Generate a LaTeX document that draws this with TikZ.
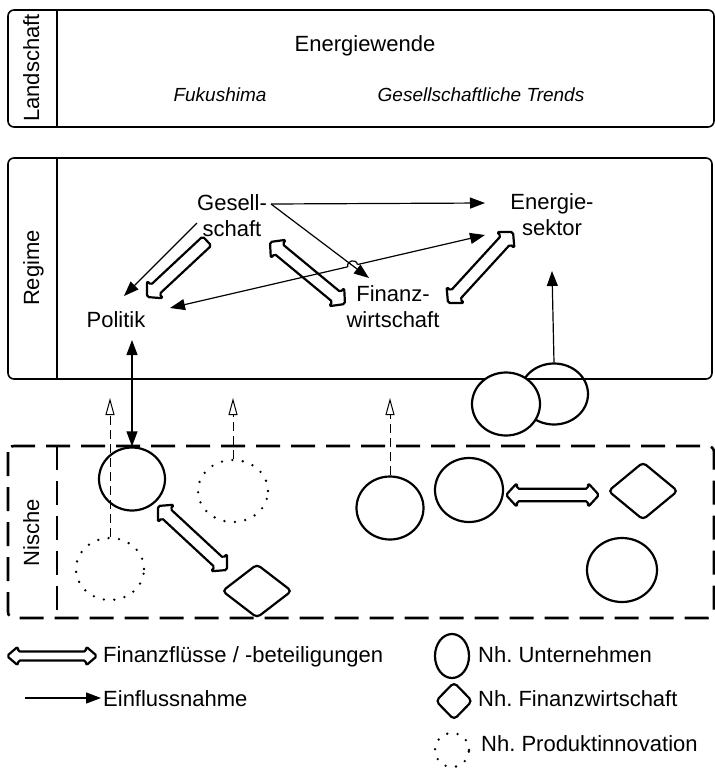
\documentclass[tikz,border=0pt]{standalone}
\usepackage{fontspec}
\setmainfont{Liberation Sans}
\frenchspacing
\usetikzlibrary{arrows.meta,shapes.geometric,calc,intersections}
\tikzset{
 txt/.style={font=\fontsize{22}{26}\selectfont, inner sep=0pt},
 itxt/.style={font=\fontsize{19}{23}\selectfont\itshape, inner sep=0pt},
 lanebox/.style={draw, line width=1.6pt, rounded corners=6pt},
 nischebox/.style={draw, line width=2.6pt, dash pattern=on 24pt off 11pt, rounded corners=6pt},
 firm/.style={ellipse, draw, line width=2.2pt, inner sep=0pt},
 inno/.style={ellipse, draw, line width=2.6pt, dash pattern=on 0pt off 10.5pt, line cap=round, inner sep=0pt},
 finbox/.style={diamond, draw, line width=2.2pt, rounded corners=4pt, inner sep=0pt},
 infl/.style={line width=1.2pt, -{Triangle[length=15pt,width=11pt]}},
 inflboth/.style={line width=1.2pt, {Triangle[length=15pt,width=11pt]}-{Triangle[length=15pt,width=11pt]}},
 innoarr/.style={line width=1pt, dash pattern=on 9pt off 5pt, -{Triangle[open,length=17pt,width=9pt,line width=1pt]}},
 finarr/.style={draw, fill=white, line width=2.2pt, rounded corners=1.8pt, line join=round},
}
\def\fhl{11pt}\def\fhw{12pt}\def\fsw{6.3pt}
\newcommand{\finboth}[2]{%
 \path[finarr] (#1)
 -- ($(#1)!\fhl!(#2)!\fhw!90:(#2)$)
 -- ($(#1)!\fhl!(#2)!\fsw!90:(#2)$)
 -- ($(#2)!\fhl!(#1)!\fsw!-90:(#1)$)
 -- ($(#2)!\fhl!(#1)!\fhw!-90:(#1)$)
 -- (#2)
 -- ($(#2)!\fhl!(#1)!\fhw!90:(#1)$)
 -- ($(#2)!\fhl!(#1)!\fsw!90:(#1)$)
 -- ($(#1)!\fhl!(#2)!\fsw!-90:(#2)$)
 -- ($(#1)!\fhl!(#2)!\fhw!-90:(#2)$)
 -- cycle;}
\newcommand{\finone}[2]{%
 \path[finarr] ($(#1)!\fsw!90:(#2)$)
 -- ($(#2)!\fhl!(#1)!\fsw!-90:(#1)$)
 -- ($(#2)!\fhl!(#1)!\fhw!-90:(#1)$)
 -- (#2)
 -- ($(#2)!\fhl!(#1)!\fhw!90:(#1)$)
 -- ($(#2)!\fhl!(#1)!\fsw!90:(#1)$)
 -- ($(#1)!\fsw!-90:(#2)$)
 -- cycle;}
\begin{document}
\begin{tikzpicture}[x=1pt,y=-1pt]
\useasboundingbox (0,0) rectangle (715,769);
% ---- lanes
\draw[lanebox] (8,10) rectangle (714,127);
\draw[line width=1.6pt] (57,10) -- (57,127);
\node[txt, rotate=90, anchor=base] (lland) at (39,68) {Landschaft};
\node[txt, anchor=base] (ew) at (365,51) {Energiewende};
\node[itxt, anchor=base] (fuku) at (220,101) {Fukushima};
\node[itxt, anchor=base] (trends) at (481,101) {Gesellschaftliche Trends};

\draw[lanebox] (8,158) rectangle (712,379);
\draw[line width=1.6pt] (57,158) -- (57,379);
\node[txt, rotate=90, anchor=base] (lreg) at (39,268) {Regime};

\draw[nischebox] (8,446) rectangle (714,618);
\draw[line width=2.6pt, dash pattern=on 24pt off 11pt] (57,446) -- (57,618);
\node[txt, rotate=90, anchor=base] (lnis) at (39,533) {Nische};

% ---- regime actors
\node[txt, align=center] (gesell) at (232,216) {Gesell-\\schaft};
\node[txt, align=center] (energie) at (552,215) {Energie-\\sektor};
\node[txt, align=center] (finanz) at (393,307) {Finanz-\\wirtschaft};
\node[txt, anchor=base] (politik) at (116,327) {Politik};

\coordinate (gsrc) at (271,204);
\coordinate (eTip) at (485,203);
\coordinate (fTip) at (369,278);
\coordinate (gpS) at (197,223);
\coordinate (gpT) at (124,296);
\coordinate (pE) at (485,235);
\coordinate (pP) at (170,308);
\coordinate (gp1) at (207,241);
\coordinate (gp2) at (147,297);
\coordinate (gf1) at (270,242);
\coordinate (gf2) at (345,304);
\coordinate (ef1) at (513,232);
\coordinate (ef2) at (448,303);

\draw[infl] (gsrc) -- (eTip);
\draw[infl] (gpS) -- (gpT);
\finone{gp1}{gp2}
\finboth{gf1}{gf2}
\finboth{ef1}{ef2}
\draw[inflboth, name path=ep] (pE) -- (pP);
\path[name path=gf] (gsrc) -- (fTip);
\path[name intersections={of=ep and gf, by=hop}];
\draw[white, line width=3pt] ($(hop)!5pt!(pE)$) -- ($(hop)!5pt!(pP)$);
\draw[infl] (gsrc) -- (fTip);
\draw[line width=1.2pt] ($(hop)!5pt!(pP)$) .. controls ($(hop)!5pt!(pP)!6.5pt!90:(hop)$) and ($(hop)!5pt!(pE)!6.5pt!-90:(hop)$) .. ($(hop)!5pt!(pE)$);

% ---- niche actors
\node[firm, minimum width=68pt, minimum height=61pt] (cB) at (554,394) {};
\node[firm, fill=white, minimum width=68pt, minimum height=63pt] (cA) at (506,404) {};
\node[firm, minimum width=66pt, minimum height=63pt] (c1) at (132,479) {};
\node[firm, minimum width=67pt, minimum height=63pt] (c3) at (390,508) {};
\node[firm, minimum width=68pt, minimum height=64pt] (c4) at (469,490) {};
\node[firm, minimum width=70pt, minimum height=64pt] (c5) at (622,570) {};
\node[inno, minimum width=68pt, minimum height=62pt] (d1) at (110,569) {};
\node[inno, minimum width=70pt, minimum height=62pt] (d2) at (233,491) {};
\node[finbox, minimum width=70pt, minimum height=58pt] (m1) at (643,491) {};
\node[finbox, minimum width=70pt, minimum height=54pt] (m2) at (257,591) {};

\coordinate (eB) at (552,271);
\coordinate (polB) at (132,340);
\coordinate (i1) at (110,398);
\coordinate (i2) at (233,398);
\coordinate (i3) at (390,398);
\coordinate (nf1) at (158,506);
\coordinate (nf2) at (227,570);
\coordinate (hf1) at (506,495);
\coordinate (hf2) at (599,495);

\draw[infl] (cB.north) -- (eB);
\draw[inflboth] (c1.north) -- (polB);
\draw[innoarr] (d1.north) -- (i1);
\draw[innoarr] (d2.north) -- (i2);
\draw[innoarr] (c3.north) -- (i3);
\finboth{nf1}{nf2}
\finboth{hf1}{hf2}

% ---- legend
\def\fhl{11pt}\def\fhw{9.5pt}\def\fsw{4.5pt}
\coordinate (lf1) at (7,656);
\coordinate (lf2) at (97,656);
\finboth{lf1}{lf2}
\node[txt, anchor=base west] (tfin) at (103,662) {Finanzflüsse / -beteiligungen};
\coordinate (le1) at (25,698);
\coordinate (le2) at (101,698);
\draw[infl] (le1) -- (le2);
\node[txt, anchor=base west] (tinfl) at (103,706) {Einflussnahme};

\node[firm, minimum width=34pt, minimum height=44pt] (lc) at (452,656) {};
\node[txt, anchor=base west] (tfirm) at (478,662) {Nh. Unternehmen};
\node[finbox, minimum width=37pt, minimum height=38pt] (ld) at (454,701) {};
\node[txt, anchor=base west] (tfw) at (478,706) {Nh. Finanzwirtschaft};
\node[inno, minimum width=34pt, minimum height=34pt] (li) at (452,750) {};
\node[txt, anchor=base west] (tinno) at (481,751) {Nh. Produktinnovation};
\end{tikzpicture}
\end{document}
